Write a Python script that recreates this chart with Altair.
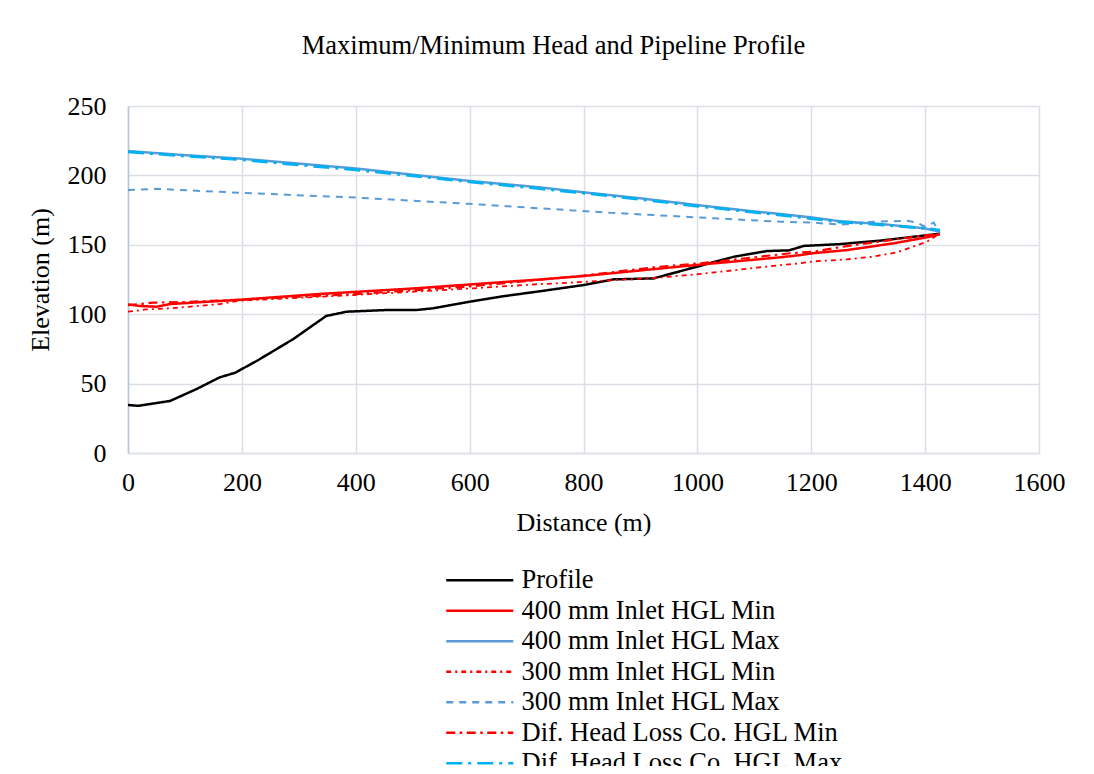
import altair as alt
import pandas as pd

# ---- data ----
profile_x = [0, 18, 74, 120, 161, 188, 226, 290, 348, 384, 454, 506, 535, 600, 660, 723, 759, 800, 853, 923, 999, 1064, 1122, 1161, 1187, 1250, 1321, 1426]
profile_y = [34.6, 34.0, 37.5, 46.0, 54.5, 57.8, 66.3, 82.0, 98.7, 101.8, 103.0, 103.0, 104.2, 109.0, 113.0, 116.5, 118.6, 121.0, 125.1, 125.8, 134.2, 141.4, 145.5, 146.0, 149.2, 150.5, 153.0, 158.0]

min400_x = [0, 21, 50, 74, 200, 337, 500, 723, 800, 999, 1146, 1181, 1202, 1263, 1345, 1403, 1426]
min400_y = [107.0, 105.9, 105.4, 107.3, 110.5, 114.6, 118.5, 125.0, 127.5, 135.5, 141.0, 142.6, 143.9, 146.2, 151.1, 155.4, 157.8]

max400_x = [0, 100, 200, 300, 400, 500, 600, 723, 800, 900, 998, 1100, 1146, 1199, 1250, 1321, 1398, 1426]
max400_y = [217.5, 214.6, 212.0, 208.5, 205.0, 200.5, 196.0, 191.4, 187.8, 183.5, 178.7, 174.0, 172.2, 169.8, 167.0, 165.0, 161.9, 159.5]

min300_x = [0, 32, 74, 161, 196, 395, 600, 723, 759, 850, 923, 1005, 1146, 1181, 1202, 1263, 1307, 1351, 1403, 1421]
min300_y = [101.8, 103.5, 104.2, 107.3, 109.7, 113.8, 118.5, 121.7, 122.3, 124.5, 126.0, 129.0, 135.4, 136.7, 138.0, 139.5, 141.4, 144.6, 152.2, 157.0]

max300_x = [0, 50, 196, 400, 600, 723, 850, 998, 1146, 1202, 1251, 1307, 1368, 1386, 1400, 1415, 1426]
max300_y = [189.5, 190.3, 187.5, 184.0, 179.5, 176.3, 173.0, 169.8, 166.6, 166.0, 164.5, 166.6, 167.3, 166.0, 163.0, 166.0, 158.5]

difmin_x = [0, 44, 100, 200, 400, 600, 800, 928, 1000, 1164, 1202, 1263, 1339, 1403, 1426]
difmin_y = [106.5, 108.3, 108.8, 110.5, 114.5, 120.0, 127.8, 134.0, 136.5, 143.9, 145.0, 149.1, 153.4, 157.0, 157.5]

difmax_x = [0, 100, 200, 300, 400, 500, 600, 723, 800, 900, 998, 1100, 1146, 1199, 1250, 1321, 1398, 1426]
difmax_y = [217.0, 214.0, 211.3, 207.6, 204.0, 199.8, 195.4, 190.5, 187.3, 182.8, 178.0, 173.5, 171.5, 169.0, 166.5, 164.5, 162.0, 160.5]

series_names = [
    "Profile",
    "400 mm Inlet HGL Min",
    "400 mm Inlet HGL Max",
    "300 mm Inlet HGL Min",
    "300 mm Inlet HGL Max",
    "Dif. Head Loss Co. HGL Min",
    "Dif. Head Loss Co. HGL Max",
]
series_data = [
    (profile_x, profile_y),
    (min400_x, min400_y),
    (max400_x, max400_y),
    (min300_x, min300_y),
    (max300_x, max300_y),
    (difmin_x, difmin_y),
    (difmax_x, difmax_y),
]
colors = ["#000000", "#FF0000", "#5B9BD5", "#FF0000", "#5B9BD5", "#FF0000", "#00B0F0"]
dashes = [[1, 0], [1, 0], [1, 0], [5, 4, 2, 4], [7, 6], [9, 4.5, 2.5, 4.5], [16, 6, 3, 6]]
widths = [2.5, 2.5, 2.5, 1.8, 2.0, 2.2, 3.0]

rows = []
for name, (xs, ys) in zip(series_names, series_data):
    for i, (xv, yv) in enumerate(zip(xs, ys)):
        rows.append({"series": name, "distance": xv, "elev": yv, "idx": i})
df = pd.DataFrame(rows)

FONT = "Liberation Serif"

legend = alt.Legend(
    orient="none", legendX=305, legendY=461, title=None,
    symbolType="M0,0H12", symbolSize=125, symbolStrokeWidth=2.5,
    labelFont=FONT, labelFontSize=26.5, labelColor="#000000",
    labelOffset=62, rowPadding=3.5, padding=0, labelLimit=600,
)

color_scale = alt.Scale(domain=series_names, range=colors)
dash_scale = alt.Scale(domain=series_names, range=dashes)

layers = []
for name, w in zip(series_names, widths):
    layers.append(
        alt.Chart(df)
        .transform_filter(alt.datum.series == name)
        .mark_line(strokeWidth=w, clip=False)
        .encode(
            x=alt.X("distance:Q", scale=alt.Scale(domain=[0, 1600], nice=False),
                    axis=alt.Axis(title="Distance (m)", values=list(range(0, 1601, 200)),
                                  format="d", labelFlush=False)),
            y=alt.Y("elev:Q", scale=alt.Scale(domain=[0, 250], nice=False),
                    axis=alt.Axis(title="Elevation (m)", values=list(range(0, 251, 50)),
                                  format="d", labelFlush=False)),
            color=alt.Color("series:N", scale=color_scale, legend=legend),
            strokeDash=alt.StrokeDash("series:N", scale=dash_scale, legend=legend),
            order="idx:Q",
        )
    )

chart = (
    alt.layer(*layers)
    .properties(
        width=911,
        height=347,
        title=alt.TitleParams(
            "Maximum/Minimum Head and Pipeline Profile",
            font=FONT, fontSize=26.5, fontWeight="normal", color="#000000",
            anchor="middle", offset=34, dx=-30,
        ),
        autosize=alt.AutoSizeParams(type="none"),
        padding={"left": 120, "top": 98, "right": 40, "bottom": 313},
    )
    .configure_view(stroke=None)
    .configure_axis(
        labelFont=FONT, labelFontSize=26, labelColor="#000000",
        titleFont=FONT, titleFontSize=26, titleFontWeight="normal", titleColor="#000000",
        grid=True, gridColor="#DCDFE6", gridWidth=1.5,
        ticks=False, domainColor="#DCDFE6", domainWidth=1.5,
    )
    .configure_axisX(labelPadding=16, titlePadding=14)
    .configure_axisY(labelPadding=22, titlePadding=14, domainColor="#B8C6DE")
)

chart.save("out.html", embed_options={"renderer": "svg", "actions": False})
